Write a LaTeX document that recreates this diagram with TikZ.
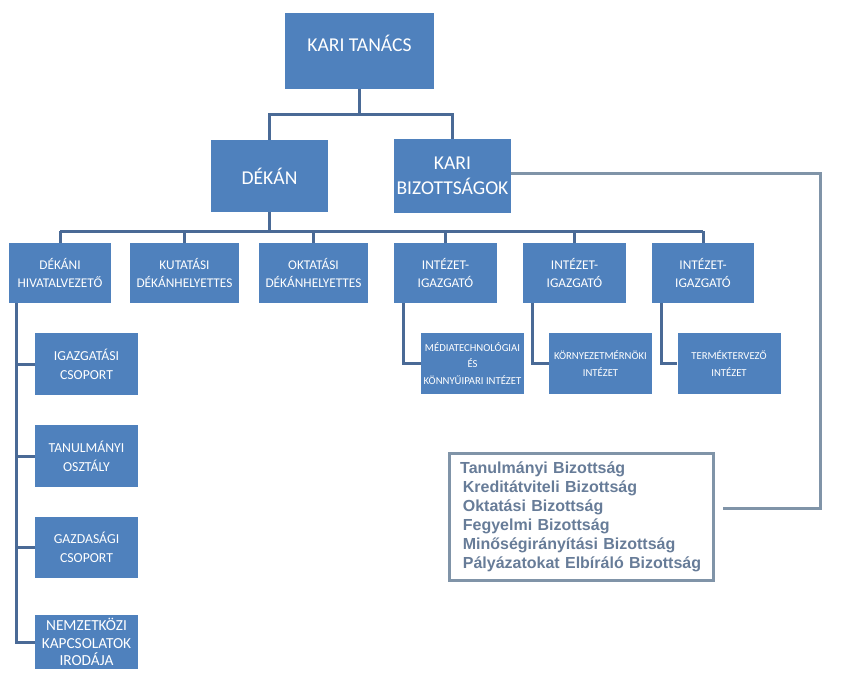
\documentclass[tikz,border=0pt]{standalone}
\usepackage{fontspec}
\setmainfont{Carlito}
\newfontfamily\arialfont{Liberation Sans}
\usetikzlibrary{calc}

\definecolor{boxblue}{HTML}{4F81BD}
\definecolor{linkblue}{HTML}{4A6A96}
\definecolor{linkgray}{HTML}{8094A8}
\definecolor{listtext}{HTML}{677C98}

\tikzset{
  unitbox/.style={fill=boxblue, text=white, align=center, inner sep=1pt},
  topbox/.style={unitbox, font=\fontsize{14.7}{19}\selectfont},
  rowbox/.style={unitbox, minimum height=45pt, font=\fontsize{10}{13}\selectfont},
  subbox/.style={unitbox, minimum width=77.25pt, minimum height=45.75pt, font=\fontsize{8}{12.3}\selectfont},
  leftbox/.style={unitbox, minimum width=77.25pt, font=\fontsize{10.3}{14}\selectfont},
  link/.style={linkblue, line width=2.25pt},
  graylink/.style={linkgray, line width=2.25pt}
}

\begin{document}
\begin{tikzpicture}[x=0.75pt,y=-0.75pt]

\useasboundingbox (0,0) rectangle (843,685);

% Top level
\node[topbox, minimum width=111.75pt, minimum height=57pt, text depth=12pt] (tanacs) at (359.5,51) {KARI TANÁCS};
\node[topbox, minimum width=87.75pt, minimum height=54pt] (dekan) at (269.5,176) {DÉKÁN};
\node[topbox, minimum width=87.75pt, minimum height=55.5pt] (bizotts) at (452.5,176) {KARI\\BIZOTTSÁGOK};

% Second row
\node[rowbox, minimum width=76.5pt] (hiv) at (60,273) {DÉKÁNI\\HIVATALVEZETŐ};
\node[rowbox, minimum width=81.75pt] (kut) at (184.5,273) {KUTATÁSI\\DÉKÁNHELYETTES};
\node[rowbox, minimum width=81.75pt] (okt) at (313.5,273) {OKTATÁSI\\DÉKÁNHELYETTES};
\node[rowbox, minimum width=77.25pt] (int1) at (445.5,273) {INTÉZET-\\IGAZGATÓ};
\node[rowbox, minimum width=77.25pt] (int2) at (574.5,273) {INTÉZET-\\IGAZGATÓ};
\node[rowbox, minimum width=76.5pt] (int3) at (703,273) {INTÉZET-\\IGAZGATÓ};

% Institutes
\node[subbox] (media) at (472.5,363.5) {MÉDIATECHNOLÓGIAI\\ÉS\\KÖNNYŰIPARI INTÉZET};
\node[subbox] (korny) at (600.5,363.5) {KÖRNYEZETMÉRNÖKI\\INTÉZET};
\node[subbox] (termek) at (729,363.5) {TERMÉKTERVEZŐ\\INTÉZET};

% Dean's office
\node[leftbox, minimum height=46.5pt] (igaz) at (86.5,364) {IGAZGATÁSI\\CSOPORT};
\node[leftbox, minimum height=46.5pt] (tanul) at (86.5,456) {TANULMÁNYI\\OSZTÁLY};
\node[leftbox, minimum height=45.75pt] (gazd) at (86.5,547.5) {GAZDASÁGI\\CSOPORT};
\node[leftbox, minimum height=40.5pt, font=\fontsize{11.5}{13}\selectfont] (nemz) at (86.5,642) {NEMZETKÖZI\\KAPCSOLATOK\\IRODÁJA};

% Committees
\node[draw=linkgray, line width=2.25pt, minimum width=198pt, minimum height=95.25pt,
      text width=182pt, align=left, inner xsep=8pt, text=listtext,
      font=\arialfont\bfseries\fontsize{12}{14.25}\selectfont] (lista) at (581.5,517)
  {Tanulmányi Bizottság\\
   \hspace{2pt}Kreditátviteli Bizottság\\
   \hspace{2pt}Oktatási Bizottság\\
   \hspace{2pt}Fegyelmi Bizottság\\
   \hspace{2pt}Minőségirányítási Bizottság\\
   \hspace{2pt}Pályázatokat Elbíráló Bizottság};

% Connectors
\coordinate (fork) at (0,115);
\coordinate (bus) at (0,231);
\draw[link] (tanacs.south) -- (tanacs.south |- fork);
\draw[link] (dekan.north) |- (fork -| bizotts.north) -- (bizotts.north);
\draw[link] (dekan.south) -- (dekan.south |- bus);
\draw[link] (hiv.north |- bus) -- (int3.north |- bus);
\foreach \n in {hiv,kut,okt,int1,int2,int3}{
  \draw[link] (\n.north) -- (\n.north |- bus);
}

\draw[link] ([xshift=7.5pt]int1.south west) |- (media.west);
\draw[link] ([xshift=7.5pt]int2.south west) |- (korny.west);
\draw[link] ([xshift=7.5pt]int3.south west) |- (termek.west);

\draw[link] ([xshift=6pt]hiv.south west) |- (nemz.west);
\foreach \n in {igaz,tanul,gazd}{
  \draw[link] ([xshift=6pt]hiv.south west |- \n.west) -- (\n.west);
}

\coordinate (bizturn) at (820,508);
\coordinate (bizend) at (723,508);
\draw[graylink] ([yshift=2.25pt]bizotts.east) -| (bizturn) -- (bizend);

\end{tikzpicture}
\end{document}
